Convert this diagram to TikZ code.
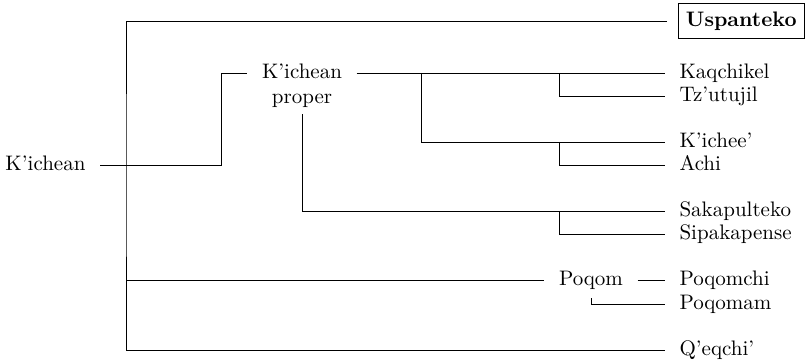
\documentclass[tikz,border=0pt]{standalone}
\usepackage{tikz}

\begin{document}
\begin{tikzpicture}[x=0.476pt,y=-0.476pt]
  \tikzstyle{every node}+=[outer sep=3.6pt]
  \tikzstyle{lang}=[text height=1.5ex, text depth=.25ex]
  \tikzstyle{leaf}=[lang, anchor=west]
  \tikzstyle{boxed}=[leaf, draw, font=\bfseries, inner xsep=3.5pt, inner ysep=4.5pt, outer sep=5.5pt]
  \useasboundingbox (0,0) rectangle (807,363);
  % groups
  \node[lang, anchor=east] (kich) at (100,165) {K'ichean};
  \node[align=center] (kp) at (302,86) {K'ichean\\proper};
  \node[lang] (poq) at (591,280) {Poqom};
  % languages
  \node[boxed] (usp) at (667,21) {Uspanteko};
  \node[leaf] (kaq) at (665,73) {Kaqchikel};
  \node[leaf] (tz) at (665,96) {Tz'utujil};
  \node[leaf] (kic) at (665,142) {K'ichee'};
  \node[leaf] (achi) at (665,165) {Achi};
  \node[leaf] (sak) at (665,211) {Sakapulteko};
  \node[leaf] (sip) at (665,234) {Sipakapense};
  \node[leaf] (pqc) at (665,280) {Poqomchi};
  \node[leaf] (pqm) at (665,304) {Poqomam};
  \node[leaf] (qeq) at (665,350) {Q'eqchi'};
  % branch points
  \coordinate (r) at (126,165);
  \coordinate (kb) at (221,165);
  \coordinate (j1) at (421,73);
  \coordinate (j2) at (559,0);
  % edges
  \draw (usp.west) -| (r) |- (qeq.west);
  \draw (r |- poq.west) -- (poq.west);
  \draw (kich.east) -- (kb) |- (kp.west |- kaq.west);
  \draw (kp.east |- kaq.west) -- (kaq.west);
  \draw ([yshift=4pt]kp.south) |- (sak.west);
  \draw (j1) |- (kic.west);
  \draw (kaq.west -| j2) |- (tz.west);
  \draw (kic.west -| j2) |- (achi.west);
  \draw (sak.west -| j2) |- (sip.west);
  \draw (poq.east) -- (pqc.west);
  \draw ([yshift=2pt]poq.south) |- (pqm.west);
\end{tikzpicture}
\end{document}
